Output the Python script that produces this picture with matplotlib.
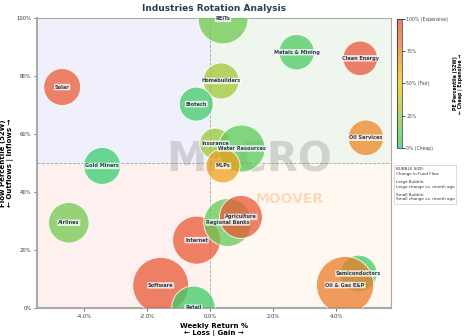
import matplotlib.pyplot as plt
import numpy as np
from matplotlib.colors import LinearSegmentedColormap

# industry data
industries = ['REITs', 'Metals & Mining', 'Clean Energy', 'Solar', 'Homebuilders', 'Biotech',
              'Oil Services', 'Gold Miners', 'Airlines', 'Internet', 'Software', 'Retail',
              'Regional Banks', 'Agriculture', 'Insurance', 'Water Resources', 'MLPs',
              'Semiconductors', 'Oil & Gas E&P']
weekly_return = [0.41, 2.75, 4.77, -4.70, 0.35, -0.44,
                 4.95, -3.43, -4.49, -0.43, -1.57, -0.53,
                 0.56, 0.98, 0.16, 1.00, 0.41,
                 4.72, 4.29]
flow_pct = [99.7, 88.2, 86.1, 76.2, 78.3, 70.3,
            58.7, 49.0, 29.4, 23.4, 7.8, 0.1,
            29.5, 31.4, 56.7, 55.0, 49.0,
            11.9, 7.9]
pe_pct = [17, 8, 95, 93, 30, 5,
          75, 3, 18, 94, 94, 5,
          14, 95, 28, 12, 65,
          5, 80]
flow_change = [25, 17.7, 17.3, 18.5, 18, 17,
               17.8, 18.5, 20.3, 24, 28, 21.7,
               24, 21.5, 15.5, 23.5, 17,
               18.3, 28.7]

cmap = LinearSegmentedColormap.from_list('pe', ['#2ecc71', '#f1c40f', '#e74c3c'])
dark = '#2c3e50'

fig = plt.figure(figsize=(4.65, 3.36), dpi=100)
ax = fig.add_axes([0.0796, 0.0833, 0.7614, 0.8631])

xmin, xmax = -5.5, 5.75
ax.set_xlim(xmin, xmax)
ax.set_ylim(0, 100)

# quadrant backgrounds
ax.fill_between([xmin, 0], 50, 100, color='#f0f0fd', zorder=0)
ax.fill_between([0, xmax], 50, 100, color='#eff6ee', zorder=0)
ax.fill_between([xmin, 0], 0, 50, color='#fdf0ef', zorder=0)
ax.fill_between([0, xmax], 0, 50, color='#fef8f1', zorder=0)
ax.axvline(0, color='gray', ls='--', lw=0.6, alpha=0.7, zorder=1)
ax.axhline(50, color='gray', ls='--', lw=0.6, alpha=0.7, zorder=1)

# watermark
ax.text(0.60, 0.51, 'MACRO', transform=ax.transAxes, ha='center', va='center',
        fontsize=29, fontweight='bold', color='#8a8a8a', alpha=0.32, zorder=1)
ax.text(0.715, 0.376, 'MOOVER', transform=ax.transAxes, ha='center', va='center',
        fontsize=10, fontweight='bold', color='#f5a060', alpha=0.35, zorder=1)

sizes = [(c * 1.44) ** 2 for c in flow_change]
sc = ax.scatter(weekly_return, flow_pct, s=sizes, c=pe_pct, cmap=cmap, vmin=0, vmax=100,
                alpha=0.75, edgecolors='white', linewidths=0.8, zorder=3, clip_on=True)

for name, x, y in zip(industries, weekly_return, flow_pct):
    ax.text(x, y, name, ha='center', va='center', fontsize=3.6, fontweight='bold', color=dark,
            zorder=5, bbox=dict(boxstyle='round,pad=0.15', fc='white', ec='none', alpha=0.75))

ax.set_xticks([-4, -2, 0, 2, 4])
ax.set_xticklabels(['-4.0%', '-2.0%', '0.0%', '2.0%', '4.0%'])
ax.set_yticks([0, 20, 40, 60, 80, 100])
ax.set_yticklabels(['0%', '20%', '40%', '60%', '80%', '100%'])
ax.tick_params(labelsize=3.8, length=2, width=0.5, colors='#333333', pad=2)
for s in ax.spines.values():
    s.set_color('#aaaaaa')
    s.set_linewidth(0.8)
ax.spines['left'].set_linewidth(1.5)
ax.spines['bottom'].set_linewidth(1.5)

ax.set_xlabel('Weekly Return %\n← Loss | Gain →', fontsize=5, fontweight='bold', labelpad=3)
ax.set_ylabel('Flow Percentile (52W)\n← Outflows | Inflows →', fontsize=5, fontweight='bold', labelpad=2)
ax.set_title('Industries Rotation Analysis', fontsize=6.5, fontweight='bold', color=dark, pad=5)

cax = fig.add_axes([0.854, 0.5595, 0.011, 0.384])
cb = fig.colorbar(sc, cax=cax)
cb.set_ticks([0, 25, 50, 75, 100])
cb.set_ticklabels(['0% (Cheap)', '25%', '50% (Fair)', '75%', '100% (Expensive)'])
cb.ax.tick_params(labelsize=3.3, length=2, width=0.5, pad=1, labelcolor='#444444')
cb.outline.set_linewidth(0.4)
cb.set_label('PE Percentile (52W)\n← Cheap | Expensive →', fontsize=3.4, fontweight='bold', labelpad=3)

ax.text(1.013, 0.485, 'BUBBLE SIZE:\nChange in Fund Flow\n\nLarge Bubble:\nLarge change vs. month ago\n\n'
        'Small Bubble:\nSmall change vs. month ago', transform=ax.transAxes, ha='left', va='top',
        fontsize=3.0, color='#333333', linespacing=1.1,
        bbox=dict(boxstyle='square,pad=0.5', fc='white', ec='#cccccc', lw=0.5))

fig.savefig('out.png', dpi=100)
